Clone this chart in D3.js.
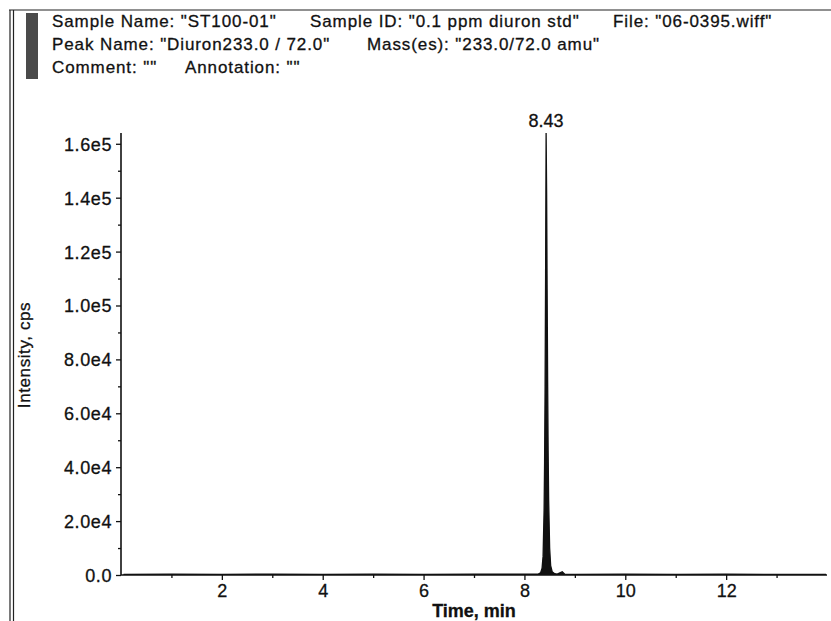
<!DOCTYPE html>
<html>
<head>
<meta charset="utf-8">
<script src="https://cdn.jsdelivr.net/npm/d3@7"></script>
<style>
  body { margin: 0; background: #fff; }
  text { font-family: Arial, "Liberation Sans", sans-serif; fill: #111; stroke: #111; stroke-width: 0.3px; }
</style>
</head>
<body>
<div id="chart"></div>
<script>
//Chromatogram data (time in min, intensity in cps)
var times = [0.05, 1.0, 2.0, 3.0, 4.0, 5.0, 6.0, 7.0, 8.0, 8.28, 8.32, 8.35, 8.37, 8.39, 8.40, 8.41, 8.42, 8.43,
    8.44, 8.45, 8.46, 8.47, 8.48, 8.50, 8.52, 8.55, 8.60, 8.65, 8.75, 8.80, 9.0, 10.0, 11.0, 12.0, 13.0, 13.98];
var intensity = [200, 300, 250, 350, 200, 300, 250, 300, 350, 400, 800, 2500, 7000, 24000, 42000, 70000, 112000, 164000,
    142000, 106000, 72000, 46000, 28000, 10000, 3500, 1200, 500, 350, 1200, 300, 250, 300, 250, 300, 250, 200];

var xTicks = [2, 4, 6, 8, 10, 12];
var yTicks = [0, 20000, 40000, 60000, 80000, 100000, 120000, 140000, 160000];
var yTickLabels = ["0.0", "2.0e4", "4.0e4", "6.0e4", "8.0e4", "1.0e5", "1.2e5", "1.4e5", "1.6e5"];
var peakLabel = "8.43";

var headerLines = [
    [["Sample Name: \"ST100-01\"", 52], ["Sample ID: \"0.1 ppm diuron std\"", 310], ["File: \"06-0395.wiff\"", 613]],
    [["Peak Name: \"Diuron233.0 / 72.0\"", 52], ["Mass(es): \"233.0/72.0 amu\"", 367]],
    [["Comment: \"\"", 52], ["Annotation: \"\"", 185]]
];

//SVG dimensions
var svgWidth = 831;
var svgHeight = 621;

var margin = { top: 133, right: 4, bottom: 46, left: 121 };
var width = svgWidth - margin.left - margin.right;
var height = svgHeight - margin.top - margin.bottom;

var svg = d3.select("#chart")
    .append("svg")
    .attr("width", svgWidth)
    .attr("height", svgHeight);

//Page frame lines
svg.append("line").attr("x1", 9).attr("x2", svgWidth).attr("y1", 10).attr("y2", 10)
    .attr("stroke", "#222").attr("stroke-width", 1.2);
svg.append("line").attr("x1", 10).attr("x2", 10).attr("y1", 10).attr("y2", svgHeight)
    .attr("stroke", "#222").attr("stroke-width", 1.2);
svg.append("line").attr("x1", 13.5).attr("x2", 13.5).attr("y1", 10).attr("y2", svgHeight)
    .attr("stroke", "#222").attr("stroke-width", 1.2);

//Grey colour bar next to header
svg.append("rect")
    .attr("x", 26).attr("y", 13).attr("width", 12).attr("height", 66)
    .attr("fill", "#4a4a4a");

//Header text
var baselines = [27, 50, 73];
headerLines.forEach(function(line, i) {
    line.forEach(function(seg) {
        svg.append("text")
            .attr("x", seg[1])
            .attr("y", baselines[i])
            .attr("font-size", "17px")
            .attr("letter-spacing", "0.9px")
            .text(seg[0]);
    });
});

var chartGroup = svg.append("g")
    .attr("transform", `translate(${margin.left}, ${margin.top})`);

var xScale = d3.scaleLinear()
    .domain([0, 14])
    .range([0, width]);

var yScale = d3.scaleLinear()
    .domain([0, 164000])
    .range([height, 0]);

//Minor ticks
var xMinor = d3.axisBottom(xScale).tickValues(d3.range(1, 14, 2)).tickSize(3).tickFormat("");
var yMinor = d3.axisLeft(yScale).tickValues(d3.range(10000, 160000, 20000)).tickSize(3).tickFormat("");

chartGroup.append("g")
    .attr("transform", `translate(0, ${height})`)
    .call(xMinor);
chartGroup.append("g")
    .call(yMinor);

//Major axes
var bottomAxis = d3.axisBottom(xScale)
    .tickValues(xTicks)
    .tickSize(5)
    .tickPadding(4)
    .tickFormat(d3.format("d"));

var leftAxis = d3.axisLeft(yScale)
    .tickValues(yTicks)
    .tickSize(5)
    .tickPadding(4)
    .tickFormat((d, i) => yTickLabels[i]);

var xAxis = chartGroup.append("g")
    .attr("transform", `translate(0, ${height})`)
    .call(bottomAxis);

var yAxis = chartGroup.append("g")
    .call(leftAxis);

[xAxis, yAxis].forEach(function(ax) {
    ax.selectAll("text")
        .attr("font-size", "18px")
        .attr("fill", "#111")
        .style("font-family", "Arial, 'Liberation Sans', sans-serif");
});
yAxis.selectAll("text").attr("letter-spacing", "0.6px").attr("dy", "0.36em");
chartGroup.selectAll("g line").attr("stroke", "#111").attr("stroke-width", 1.3);
chartGroup.selectAll(".domain").remove();

//Axis lines
chartGroup.append("line")
    .attr("x1", 0).attr("x2", width).attr("y1", height).attr("y2", height)
    .attr("stroke", "#111").attr("stroke-width", 1.6);
chartGroup.append("line")
    .attr("x1", 0).attr("x2", 0).attr("y1", 0).attr("y2", height)
    .attr("stroke", "#111").attr("stroke-width", 1.6);

//Chromatogram trace
var trace = times.map((t, i) => ({ t: t, v: intensity[i] }));

var area = d3.area()
    .x(d => xScale(d.t))
    .y0(yScale(0))
    .y1(d => yScale(d.v));

var line = d3.line()
    .x(d => xScale(d.t))
    .y(d => yScale(d.v));

chartGroup.append("path")
    .datum(trace)
    .attr("d", area)
    .attr("fill", "#111");

chartGroup.append("path")
    .datum(trace)
    .attr("d", line)
    .attr("fill", "none")
    .attr("stroke", "#111")
    .attr("stroke-width", 1.3);

//Peak label
chartGroup.append("text")
    .attr("x", xScale(8.43))
    .attr("y", yScale(164000) - 6)
    .attr("text-anchor", "middle")
    .attr("font-size", "18px")
    .text(peakLabel);

//Axis titles
chartGroup.append("text")
    .attr("x", 353)
    .attr("y", height + 42)
    .attr("text-anchor", "middle")
    .attr("font-size", "18px")
    .attr("font-weight", "bold")
    .text("Time, min");

svg.append("text")
    .attr("transform", "rotate(-90)")
    .attr("x", -355)
    .attr("y", 30)
    .attr("text-anchor", "middle")
    .attr("font-size", "17px")
    .attr("letter-spacing", "0.6px")
    .text("Intensity, cps");
</script>
</body>
</html>
